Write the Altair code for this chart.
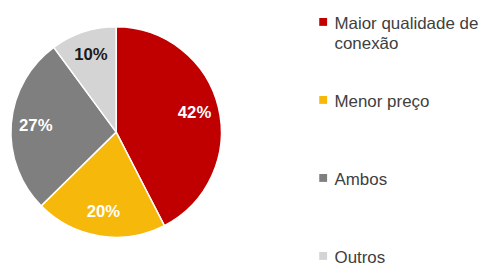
import altair as alt
import pandas as pd

categories = ["Maior qualidade de conexão", "Menor preço", "Ambos", "Outros"]
legend_labels = ["Maior qualidade de\nconexão", "Menor preço", "Ambos", "Outros"]
values = [42, 20, 27, 10]
colors = ["#C00000", "#F7B80C", "#7F7F7F", "#D4D4D4"]
label_colors = ["white", "white", "white", "#1a1a1a"]

df = pd.DataFrame({
    "category": categories,
    "legend": legend_labels,
    "value": values,
    "order": list(range(len(categories))),
    "label": [f"{v}%" for v in values],
    "lcolor": label_colors,
})

cx, cy, r = 110, 124, 107
color_scale = alt.Scale(domain=categories, range=colors)

base = alt.Chart(df).encode(
    theta=alt.Theta("value:Q", stack=True),
    order=alt.Order("order:Q"),
    x=alt.value(cx),
    y=alt.value(cy),
)

arcs = base.mark_arc(radius=r, stroke="white", strokeWidth=1.5).encode(
    color=alt.Color("category:N", scale=color_scale, legend=None)
)

texts = base.mark_text(radius=82, font="Liberation Sans", fontSize=17, fontWeight="bold").encode(
    text="label:N",
    color=alt.Color("lcolor:N", scale=None),
)

ypos = alt.Y("category:N", sort=categories, scale=alt.Scale(type="point", range=[12, 250], padding=0), axis=None)

squares = alt.Chart(df).mark_square(size=64, opacity=1).encode(
    x=alt.value(320.5),
    y=ypos,
    color=alt.Color("category:N", scale=color_scale, legend=None),
)

leg_text = alt.Chart(df).mark_text(
    align="left", baseline="alphabetic", dy=7, font="Liberation Sans", fontSize=17.2,
    color="#404040", lineBreak="\n", lineHeight=21,
).encode(
    x=alt.value(332),
    y=ypos,
    text="legend:N",
)

chart = alt.layer(arcs, texts, squares, leg_text).properties(
    width=481, height=256, padding=0, autosize=alt.AutoSizeParams(type="none"),
).configure_view(stroke=None)

chart.save("out.html", embed_options={"renderer": "svg", "actions": False})
